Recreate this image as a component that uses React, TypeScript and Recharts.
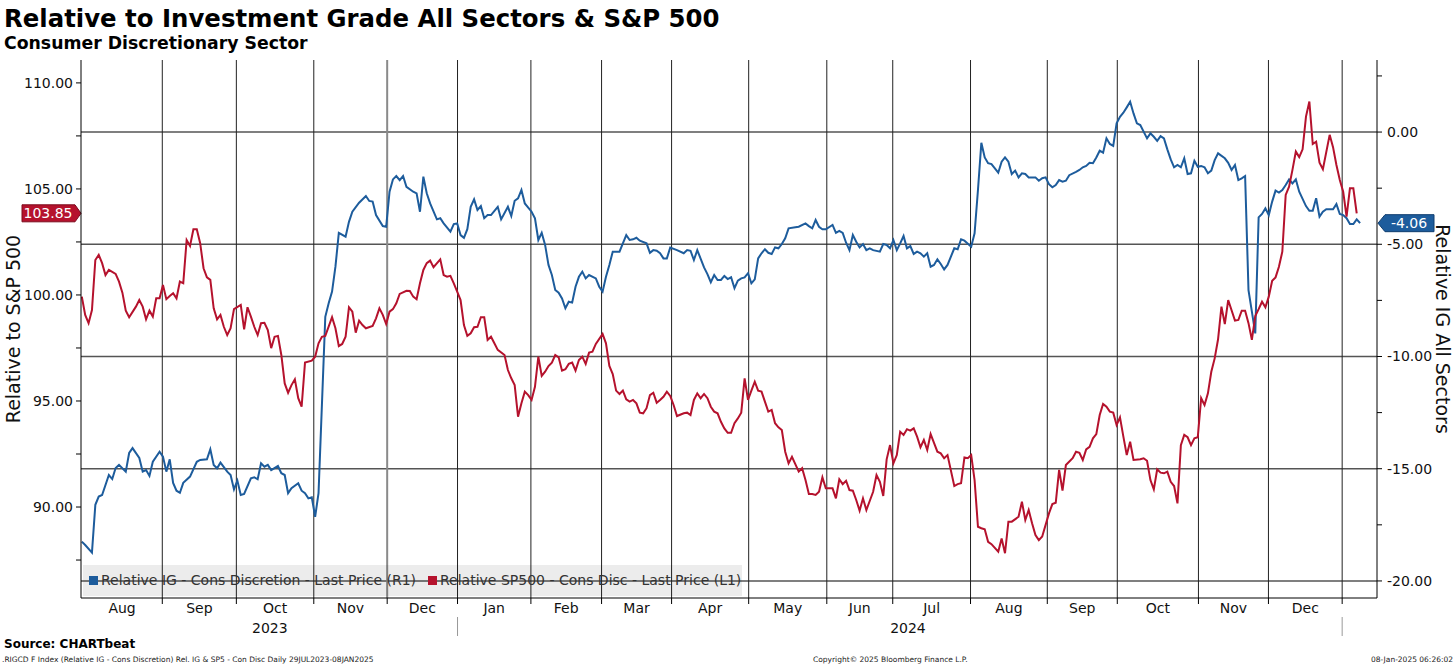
import React from 'react';
import { LineChart, Line, XAxis, YAxis, ReferenceLine } from 'recharts';

// x = weekday index counted from Mon 31 Jul 2023 (0) to Wed 08 Jan 2025 (377)
const igDays = [
  0, 1, 3, 4, 5, 6, 8, 9, 10, 11, 13, 14, 15, 17, 18, 19, 20, 21, 23, 24, 25, 26, 27, 28, 29, 30, 32, 34, 35, 37,
  38, 39, 40, 41, 43, 44, 45, 46, 47, 48, 50, 51, 52, 53, 54, 55, 56, 58, 59, 60, 61, 62, 64, 65, 66, 67, 68, 69, 70, 72,
  73, 74, 75, 76, 78, 79, 80, 82, 84, 85, 86, 87, 89, 90, 91, 92, 93, 94, 95, 96, 98, 99, 100, 101, 102, 103, 105, 106, 107, 109,
  110, 111, 112, 113, 114, 115, 116, 117, 118, 119, 120, 121, 123, 124, 126, 127, 128, 129, 130, 131, 133, 134, 135, 136, 137, 138, 139, 140, 141, 142,
  143, 144, 145, 146, 147, 148, 149, 150, 152, 153, 154, 155, 156, 157, 159, 160, 161, 162, 163, 164, 165, 167, 168, 169, 170, 171, 172, 173, 174, 176,
  178, 179, 180, 181, 182, 184, 185, 186, 187, 188, 189, 190, 191, 192, 193, 194, 195, 196, 197, 198, 199, 200, 201, 202, 203, 204, 205, 206, 207, 208,
  209, 211, 212, 214, 215, 216, 217, 218, 219, 220, 222, 223, 224, 225, 226, 227, 228, 229, 230, 231, 232, 233, 234, 236, 237, 238, 239, 240, 241, 242,
  243, 244, 245, 246, 247, 248, 249, 250, 251, 252, 253, 254, 255, 256, 257, 258, 259, 260, 261, 263, 264, 265, 266, 267, 268, 269, 270, 271, 272, 273,
  274, 275, 276, 277, 278, 279, 280, 282, 283, 284, 285, 286, 287, 288, 289, 290, 291, 292, 294, 295, 296, 297, 298, 299, 300, 301, 302, 303, 304, 305,
  306, 307, 308, 309, 310, 311, 312, 313, 315, 316, 317, 318, 319, 320, 321, 322, 323, 324, 325, 326, 327, 328, 329, 330, 331, 332, 333, 334, 335, 336,
  338, 339, 340, 341, 342, 343, 344, 345, 346, 347, 348, 349, 350, 351, 352, 353, 354, 355, 356, 357, 358, 359, 360, 362, 363, 364, 365, 366, 367, 368,
  370, 371, 372, 373, 374, 375, 376, 377, 378,
];
const igValues = [
  -18.25, -18.4, -18.74, -16.61, -16.24, -16.17, -15.28, -15.46, -14.97, -14.83, -15.13, -14.3, -14.08, -14.52, -15.13, -15.06, -15.32, -14.69, -14.24, -14.46, -15.13, -14.58, -15.63, -15.98, -16.07, -15.63, -15.35, -14.69, -14.61, -14.58,
  -14.13, -14.83, -14.98, -14.73, -15.13, -15.28, -15.92, -15.53, -16.17, -16.12, -15.43, -15.38, -15.47, -14.76, -14.91, -14.83, -15.06, -14.88, -15.2, -15.28, -16.09, -15.87, -15.65, -15.98, -16.09, -16.32, -16.27, -17.14, -16.09, -8.23,
  -7.63, -7.11, -6.0, -4.49, -4.66, -4.0, -3.55, -3.15, -2.85, -3.07, -3.1, -3.7, -4.19, -4.22, -2.66, -2.11, -1.96, -2.14, -1.96, -2.44, -2.66, -2.73, -3.55, -1.99, -2.73, -3.18, -3.89, -3.84, -4.07, -4.44,
  -4.1, -4.07, -4.59, -4.71, -4.33, -3.33, -3.0, -3.47, -3.3, -3.84, -3.7, -3.7, -3.33, -3.89, -3.33, -3.74, -3.06, -2.95, -2.58, -3.18, -3.55, -3.84, -4.81, -4.49, -5.03, -5.92, -6.37, -7.04, -7.16, -7.41,
  -7.85, -7.56, -7.6, -6.89, -6.45, -6.22, -6.52, -6.37, -6.52, -6.89, -7.11, -6.45, -5.92, -5.33, -5.33, -4.96, -4.59, -4.81, -4.78, -4.71, -4.84, -4.96, -5.38, -5.26, -5.29, -5.4, -5.63, -5.63, -5.15, -5.26,
  -5.4, -5.26, -5.29, -5.7, -5.26, -6.03, -6.33, -6.69, -6.37, -6.59, -6.59, -6.41, -6.55, -6.47, -6.96, -6.62, -6.52, -6.48, -6.29, -6.74, -6.56, -5.63, -5.4, -5.22, -5.38, -5.43, -5.14, -5.18, -4.99, -4.73,
  -4.29, -4.24, -4.22, -4.07, -4.19, -4.29, -3.92, -4.22, -4.33, -4.33, -4.14, -4.49, -4.4, -4.49, -4.93, -5.26, -4.59, -4.89, -5.14, -4.99, -5.26, -5.18, -5.26, -5.33, -4.99, -5.03, -5.18, -4.81, -5.26, -4.96,
  -4.63, -5.18, -5.08, -5.43, -5.33, -5.4, -5.55, -5.4, -6.0, -5.92, -5.67, -5.88, -6.12, -5.92, -5.55, -5.18, -5.22, -4.78, -4.84, -5.11, -4.51, -2.58, -0.48, -1.13, -1.39, -1.43, -1.62, -1.81, -1.32, -1.13,
  -1.32, -1.87, -1.72, -2.02, -1.84, -1.87, -2.02, -2.02, -2.17, -2.06, -2.02, -2.32, -2.46, -2.36, -2.14, -2.21, -2.17, -1.92, -1.77, -1.69, -1.57, -1.51, -1.37, -1.39, -1.13, -0.83, -0.92, -0.28, -0.53, -0.62,
  0.39, 0.68, 0.86, 1.1, 1.35, 0.83, 0.39, 0.31, -0.28, -0.06, -0.21, -0.39, -0.18, -0.28, -0.77, -1.22, -1.57, -1.47, -1.57, -1.17, -1.87, -1.84, -1.28, -1.55, -1.51, -1.57, -1.84, -1.72, -1.25, -0.95,
  -1.17, -1.37, -1.69, -1.47, -2.14, -2.06, -1.96, -7.04, -8.0, -8.97, -3.8, -3.65, -3.4, -3.7, -3.1, -2.61, -2.7, -2.58, -2.36, -2.11, -2.29, -2.11, -2.66, -3.3, -3.51, -3.51, -2.95, -3.77, -3.55, -3.44,
  -3.44, -3.21, -3.65, -3.7, -3.84, -4.1, -4.1, -3.89, -4.06,
];

const spxDays = [
  0, 1, 2, 3, 4, 5, 6, 7, 8, 10, 11, 12, 13, 14, 16, 17, 18, 19, 20, 21, 22, 23, 24, 25, 26, 27, 28, 29, 30, 31,
  32, 33, 34, 35, 36, 37, 38, 39, 40, 41, 42, 43, 44, 45, 47, 48, 49, 50, 51, 52, 53, 54, 55, 56, 57, 58, 59, 60, 61, 62,
  63, 64, 65, 66, 68, 69, 70, 71, 72, 74, 75, 76, 77, 78, 79, 80, 81, 82, 83, 84, 86, 87, 88, 89, 90, 91, 92, 93, 94, 96,
  97, 98, 99, 100, 101, 102, 103, 104, 106, 107, 108, 109, 110, 111, 112, 113, 114, 115, 116, 117, 118, 119, 120, 121, 122, 123, 125, 126, 127, 128,
  129, 130, 131, 132, 133, 134, 135, 136, 137, 138, 139, 140, 141, 142, 143, 144, 145, 146, 147, 148, 149, 150, 151, 152, 154, 155, 156, 157, 158, 159,
  160, 161, 162, 163, 164, 165, 166, 167, 168, 169, 170, 171, 172, 173, 174, 175, 176, 178, 179, 180, 181, 182, 183, 184, 185, 186, 187, 188, 189, 190,
  191, 192, 193, 194, 195, 196, 197, 198, 199, 200, 201, 202, 203, 204, 205, 206, 207, 208, 209, 210, 212, 213, 214, 215, 216, 217, 218, 219, 220, 222,
  223, 224, 225, 226, 227, 228, 229, 230, 231, 232, 234, 235, 236, 237, 238, 239, 240, 241, 242, 243, 244, 245, 246, 247, 248, 249, 250, 251, 252, 253,
  254, 255, 256, 258, 259, 260, 261, 262, 263, 264, 265, 266, 267, 268, 269, 271, 272, 273, 274, 275, 277, 278, 279, 280, 281, 282, 283, 284, 286, 287,
  288, 289, 290, 291, 293, 294, 295, 296, 297, 298, 299, 300, 301, 302, 303, 304, 305, 306, 307, 308, 309, 310, 311, 313, 314, 315, 316, 317, 318, 319,
  320, 321, 322, 323, 324, 325, 326, 327, 328, 329, 330, 331, 332, 333, 334, 335, 336, 337, 338, 339, 341, 342, 343, 344, 345, 346, 347, 348, 349, 350,
  351, 352, 353, 354, 355, 356, 357, 358, 359, 360, 361, 362, 363, 364, 365, 366, 367, 369, 370, 371, 372, 373, 374, 375, 376, 377,
];
const spxValues = [
  99.92, 99.06, 98.67, 99.29, 101.65, 101.89, 101.5, 100.94, 101.18, 100.99, 100.63, 100.11, 99.26, 98.95, 99.45, 99.76, 99.45, 98.85, 99.26, 98.98, 99.84, 99.84, 100.47, 99.8, 99.95, 100.08, 99.84, 100.63, 100.55, 102.59,
  102.31, 103.1, 103.1, 102.44, 101.26, 100.83, 100.71, 99.37, 98.85, 99.06, 98.5, 98.11, 98.43, 99.33, 99.53, 98.38, 99.42, 98.98, 98.5, 98.11, 98.67, 98.69, 98.35, 97.49, 98.03, 98.07, 97.17, 95.83, 95.39, 95.75,
  96.02, 95.13, 94.73, 96.81, 96.9, 97.09, 97.72, 98.03, 98.07, 98.95, 98.43, 97.59, 97.69, 98.03, 99.42, 99.21, 98.22, 98.79, 98.58, 98.43, 98.54, 98.9, 99.37, 99.06, 98.63, 99.21, 99.33, 99.61, 100.05, 100.2,
  100.19, 99.92, 99.8, 100.55, 101.18, 101.5, 101.62, 101.31, 101.68, 100.94, 100.86, 100.9, 100.55, 100.16, 99.76, 98.58, 98.07, 98.19, 98.48, 98.5, 98.95, 98.95, 97.88, 98.03, 97.72, 97.41, 97.17, 96.46, 96.07, 95.75,
  94.26, 94.89, 95.44, 95.28, 95.05, 95.67, 97.09, 96.18, 96.38, 96.65, 96.81, 97.17, 97.06, 96.43, 96.5, 96.75, 96.81, 96.43, 96.93, 97.09, 96.75, 97.28, 97.33, 97.69, 98.16, 97.72, 96.65, 96.27, 95.49, 95.33,
  95.49, 95.08, 94.97, 95.05, 94.89, 94.45, 94.42, 94.66, 95.28, 95.39, 94.92, 95.05, 95.2, 95.44, 95.24, 94.81, 94.29, 94.42, 94.45, 94.34, 95.05, 95.36, 95.13, 95.33, 95.13, 94.73, 94.5, 94.42, 94.02, 93.71,
  93.5, 93.5, 93.95, 94.18, 94.45, 96.07, 95.05, 95.49, 95.91, 95.49, 95.44, 94.97, 94.5, 94.58, 93.95, 93.76, 93.63, 92.61, 92.06, 92.37, 91.67, 91.83, 91.27, 90.61, 90.61, 90.57, 90.72, 91.4, 90.88, 90.88,
  90.41, 91.31, 91.08, 91.24, 90.8, 90.77, 90.33, 89.83, 90.41, 89.86, 90.72, 91.51, 91.19, 90.52, 92.25, 92.92, 92.06, 92.45, 93.55, 93.4, 93.67, 93.6, 93.71, 93.32, 92.82, 93.16, 92.69, 93.44, 93.03, 92.61,
  92.53, 92.3, 92.45, 90.99, 91.08, 91.12, 92.34, 92.3, 92.45, 91.27, 89.07, 89.0, 88.95, 88.36, 88.25, 87.89, 88.52, 87.82, 89.31, 89.31, 89.54, 90.25, 89.39, 89.86, 89.23, 88.68, 88.44, 88.61, 89.7, 90.14,
  90.2, 91.75, 90.77, 91.98, 92.3, 92.61, 92.56, 92.22, 92.72, 92.84, 93.24, 93.44, 94.34, 94.86, 94.73, 94.5, 94.45, 93.87, 94.23, 93.32, 92.45, 93.08, 92.22, 92.25, 92.3, 92.18, 91.27, 90.83, 91.78, 91.62,
  91.59, 91.67, 91.19, 90.99, 90.17, 92.92, 93.4, 93.29, 92.92, 93.24, 93.29, 95.13, 94.81, 95.36, 96.38, 97.01, 97.91, 99.45, 98.63, 99.76, 98.79, 98.82, 99.26, 99.26, 98.67, 97.88, 99.01, 99.33, 99.68, 99.42,
  99.92, 100.67, 100.83, 101.33, 102.04, 104.72, 105.11, 105.9, 106.76, 106.5, 106.87, 108.41, 109.12, 107.12, 107.23, 106.24, 105.93, 107.55, 106.97, 106.13, 105.42, 104.87, 103.69, 105.03, 105.03, 103.85,
];

// month boundaries on the same axis, Sep 2023 .. Jan 2025
const monthEdges = [23.8, 45.7, 68.6, 90.3, 111.1, 132.8, 153.7, 174.4, 197.2, 220.3, 239.8, 262.8, 285.5, 306.2, 330.2, 350.9, 372.7];
const monthNames = ['Aug', 'Sep', 'Oct', 'Nov', 'Dec', 'Jan', 'Feb', 'Mar', 'Apr', 'May', 'Jun', 'Jul', 'Aug', 'Sep', 'Oct', 'Nov', 'Dec'];
const yearNames = ['2023', '2024'];
const yearLabelDays = [55.6, 244.3];
const yearBreaks = [111.1, 372.7];
const greyEdge = 90.3;

const leftTicks = [87.5, 90, 92.5, 95, 97.5, 100, 102.5, 105, 107.5, 110];
const rightTicks = [-20, -17.5, -15, -12.5, -10, -7.5, -5, -2.5, 0, 2.5];
const rightGrid = [-20, -15, -10, -5, 0];

const BLUE = '#1d5c9c';
const RED = '#b5122d';
const FONT = 'DejaVu Sans';

const igData = igDays.map((d, i) => ({ day: d, value: igValues[i] }));
const spxData = spxDays.map((d, i) => ({ day: d, value: spxValues[i] }));
const lastIg = igValues[igValues.length - 1];
const lastSpx = spxValues[spxValues.length - 1];

const edges = [0, ...monthEdges];
const monthMids = monthNames.map((_, i) => (edges[i] + edges[i + 1]) / 2);
const xTicks = [...monthEdges, ...monthMids, ...yearLabelDays].sort((a, b) => a - b);

const fmt = (v: number) => (Number.isInteger(v / 5) ? v.toFixed(2) : '');

const XTick = (props: any) => {
  const { x, y, payload } = props;
  const v = payload.value;
  const mi = monthMids.indexOf(v);
  if (mi >= 0) {
    return (
      <text x={x} y={y + 15} textAnchor="middle" fontSize={14} fill="#111" fontFamily={FONT}>
        {monthNames[mi]}
      </text>
    );
  }
  const yi = yearLabelDays.indexOf(v);
  if (yi >= 0) {
    return (
      <text x={x} y={y + 35} textAnchor="middle" fontSize={14} fill="#111" fontFamily={FONT}>
        {yearNames[yi]}
      </text>
    );
  }
  return (
    <g>
      <line x1={x} x2={x} y1={y} y2={y + 6} stroke="#000" />
      {yearBreaks.includes(v) && <line x1={x} x2={x} y1={y + 19} y2={y + 38} stroke="#999" />}
    </g>
  );
};

const redTag = (props: any) => {
  const { x, y } = props.viewBox;
  return (
    <g>
      <path d={`M${x - 59},${y - 8.5} H${x - 6} L${x},${y} L${x - 6},${y + 8.5} H${x - 59} Z`} fill={RED} stroke="#7d0a1d" />
      <text x={x - 33} y={y + 5} textAnchor="middle" fontSize={14} fill="#fff" fontFamily={FONT}>
        {lastSpx.toFixed(2)}
      </text>
    </g>
  );
};

const blueTag = (props: any) => {
  const { x, y, width } = props.viewBox;
  const r = x + width;
  return (
    <g>
      <path d={`M${r + 1},${y} L${r + 8},${y - 8.5} H${r + 57} V${y + 8.5} H${r + 8} Z`} fill={BLUE} stroke="#0f3d6e" />
      <text x={r + 32} y={y + 5} textAnchor="middle" fontSize={14} fill="#fff" fontFamily={FONT}>
        {lastIg.toFixed(2)}
      </text>
    </g>
  );
};

export default function App() {
  return (
    <div style={{ position: 'absolute', left: 0, top: 0, width: 1456, height: 665, background: '#fff', fontFamily: FONT }}>
      <LineChart width={1456} height={665} margin={{ top: 60, right: 0, bottom: 0, left: 0 }}>
        <XAxis
          type="number"
          dataKey="day"
          domain={[-0.24, 383]}
          allowDataOverflow
          ticks={xTicks}
          interval={0}
          tickLine={false}
          tickSize={0}
          tickMargin={0}
          height={67}
          axisLine={{ stroke: '#000' }}
          tick={<XTick />}
        />
        <YAxis
          yAxisId="left"
          orientation="left"
          width={81}
          domain={[85.71, 111.08]}
          allowDataOverflow
          ticks={leftTicks}
          interval={0}
          tickFormatter={fmt}
          tickSize={5}
          tickMargin={3}
          tick={{ fill: '#111', fontSize: 14, fontFamily: FONT }}
          tickLine={{ stroke: '#000' }}
          axisLine={{ stroke: '#000' }}
          label={{ value: 'Relative to S&P 500', angle: -90, position: 'insideLeft', offset: 13, style: { textAnchor: 'middle', fontSize: 19, fill: '#111', fontFamily: FONT } }}
        />
        <YAxis
          yAxisId="right"
          orientation="right"
          width={79}
          domain={[-20.76, 3.21]}
          allowDataOverflow
          ticks={rightTicks}
          interval={0}
          tickFormatter={fmt}
          tickSize={5}
          tickMargin={5}
          tick={{ fill: '#111', fontSize: 14, fontFamily: FONT }}
          tickLine={{ stroke: '#000' }}
          axisLine={{ stroke: '#000' }}
          label={{ value: 'Relative IG All Sectors', angle: 90, position: 'insideRight', offset: 13, style: { textAnchor: 'middle', fontSize: 19, fill: '#111', fontFamily: FONT } }}
        />
        {rightGrid.map((v) => (
          <ReferenceLine key={'h' + v} yAxisId="right" y={v} stroke="#555" strokeWidth={1.5} />
        ))}
        {monthEdges.map((d) => (
          <ReferenceLine
            key={'v' + d}
            yAxisId="left"
            x={d}
            stroke={d === greyEdge ? '#8a8a8a' : '#222'}
            strokeWidth={d === greyEdge ? 2 : 1}
          />
        ))}
        <Line yAxisId="right" data={igData} dataKey="value" type="linear" stroke={BLUE} strokeWidth={2} dot={false} isAnimationActive={false} />
        <Line yAxisId="left" data={spxData} dataKey="value" type="linear" stroke={RED} strokeWidth={2} dot={false} isAnimationActive={false} />
        <ReferenceLine yAxisId="left" y={lastSpx} stroke="none" label={redTag} />
        <ReferenceLine yAxisId="right" y={lastIg} stroke="none" label={blueTag} />
      </LineChart>
      <svg width={1456} height={665} style={{ position: 'absolute', left: 0, top: 0, pointerEvents: 'none' }} fontFamily={FONT}>
        <text x={4} y={27} fontSize={24.4} fontWeight="bold" fill="#000">{'Relative to Investment Grade All Sectors & S&P 500'}</text>
        <text x={4} y={49} fontSize={17.3} fontWeight="bold" fill="#000">Consumer Discretionary Sector</text>
        <rect x={83} y={565} width={659} height={31} fill="rgba(0,0,0,0.075)" />
        <rect x={89} y={576} width={9} height={9} fill={BLUE} />
        <text x={101} y={585} fontSize={14} fill="#333">Relative IG - Cons Discretion - Last Price (R1)</text>
        <rect x={428} y={576} width={9} height={9} fill={RED} />
        <text x={440} y={585} fontSize={14} fill="#333">Relative SP500 - Cons Disc - Last Price (L1)</text>
        <text x={4} y={648} fontSize={12} fontWeight="bold" fill="#000">Source: CHARTbeat</text>
        <text x={2} y={662} fontSize={7.5} fill="#222">{'.RIGCD F Index (Relative IG - Cons Discretion) Rel. IG & SP5 - Con Disc  Daily 29JUL2023-08JAN2025'}</text>
        <text x={813} y={662} fontSize={7.5} fill="#222">Copyright© 2025 Bloomberg Finance L.P.</text>
        <text x={1453} y={662} fontSize={7.5} fill="#222" textAnchor="end">08-Jan-2025 06:26:02</text>
      </svg>
    </div>
  );
}
